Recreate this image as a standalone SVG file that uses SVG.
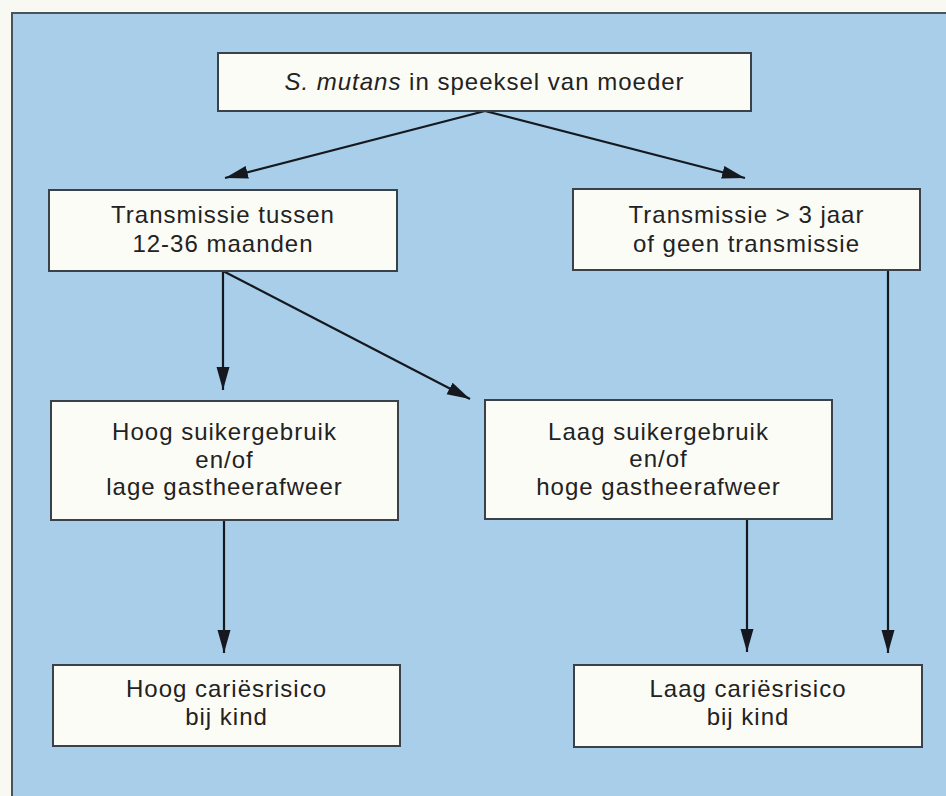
<svg xmlns="http://www.w3.org/2000/svg" width="946" height="796" viewBox="0 0 946 796">
  <style>
    .box { fill: #fcfcf7; stroke: #3b4148; stroke-width: 2; }
    .lbl { font-family: "Liberation Sans", Arial, sans-serif; font-size: 24px; letter-spacing: 1px; fill: #222222; text-anchor: middle; }
    .conn { stroke: #15191f; stroke-width: 2.2; fill: none; marker-end: url(#arrow); }
  </style>
  <defs>
    <marker id="arrow" markerUnits="userSpaceOnUse" markerWidth="24" markerHeight="16" viewBox="0 0 24 16" refX="23" refY="8" orient="auto">
      <path d="M0,1.5 L23,8 L0,14.5 Z" fill="#15191f"/>
    </marker>
  </defs>

  <rect x="0" y="0" width="946" height="796" fill="#f9f9f4"/>
  <rect id="panel" x="12" y="13" width="950" height="800" fill="#a8cee9" stroke="#4a535c" stroke-width="2"/>

  <g id="connectors">
    <line class="conn" x1="485" y1="111" x2="225" y2="178"/>
    <line class="conn" x1="485" y1="111" x2="745" y2="178"/>
    <line class="conn" x1="223" y1="271" x2="223" y2="390"/>
    <line class="conn" x1="223" y1="271" x2="470" y2="399"/>
    <line class="conn" x1="224" y1="520" x2="224" y2="653"/>
    <line class="conn" x1="747" y1="519" x2="747" y2="652"/>
    <line class="conn" x1="888" y1="270" x2="888" y2="653"/>
  </g>

  <g id="node-smutans">
    <rect class="box" x="218" y="53" width="533" height="58"/>
    <text class="lbl" x="484.5" y="90"><tspan font-style="italic">S. mutans</tspan> in speeksel van moeder</text>
  </g>

  <g id="node-transmissie-12-36">
    <rect class="box" x="49" y="190" width="348" height="81"/>
    <text class="lbl" x="223" y="223">Transmissie tussen</text>
    <text class="lbl" x="223" y="252">12-36 maanden</text>
  </g>

  <g id="node-transmissie-3jaar">
    <rect class="box" x="573" y="189" width="347" height="81"/>
    <text class="lbl" x="746.5" y="223">Transmissie &gt; 3 jaar</text>
    <text class="lbl" x="746.5" y="252">of geen transmissie</text>
  </g>

  <g id="node-hoog-suiker">
    <rect class="box" x="51" y="401" width="347" height="119"/>
    <text class="lbl" x="224.5" y="440">Hoog suikergebruik</text>
    <text class="lbl" x="224.5" y="467.5">en/of</text>
    <text class="lbl" x="224.5" y="495">lage gastheerafweer</text>
  </g>

  <g id="node-laag-suiker">
    <rect class="box" x="485" y="400" width="347" height="119"/>
    <text class="lbl" x="658.5" y="439.5">Laag suikergebruik</text>
    <text class="lbl" x="658.5" y="467">en/of</text>
    <text class="lbl" x="658.5" y="495">hoge gastheerafweer</text>
  </g>

  <g id="node-hoog-caries">
    <rect class="box" x="53" y="665" width="347" height="81"/>
    <text class="lbl" x="226.5" y="697">Hoog cariësrisico</text>
    <text class="lbl" x="226.5" y="725">bij kind</text>
  </g>

  <g id="node-laag-caries">
    <rect class="box" x="574" y="665" width="348" height="82"/>
    <text class="lbl" x="748" y="697">Laag cariësrisico</text>
    <text class="lbl" x="748" y="725">bij kind</text>
  </g>
</svg>
